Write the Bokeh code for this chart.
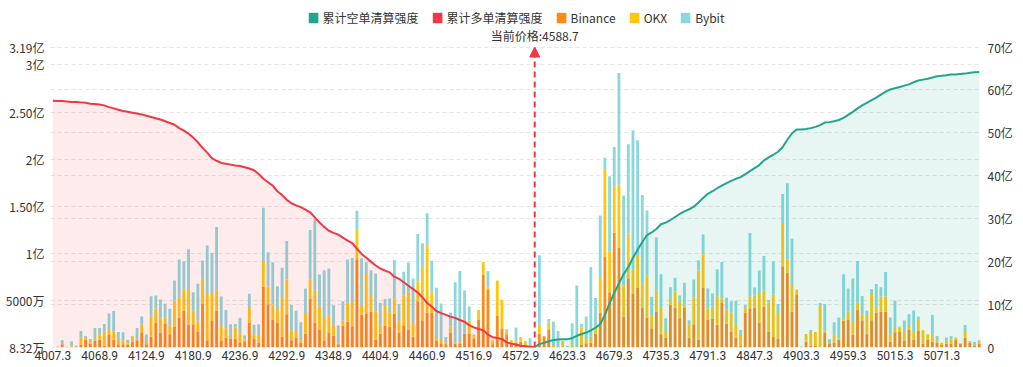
from bokeh.plotting import figure
from bokeh.models import (Range1d, LinearAxis, FixedTicker, Grid, Legend, LegendItem,
                          ColumnDataSource, Arrow, NormalHead)
from bokeh.embed import file_html
from bokeh.resources import INLINE
from bokeh.core.properties import value

# ---------------- data ----------------
x_labels = ["4007.3", "4068.9", "4124.9", "4180.9", "4236.9", "4292.9", "4348.9",
            "4404.9", "4460.9", "4516.9", "4572.9", "4623.3", "4679.3", "4735.3",
            "4791.3", "4847.3", "4903.3", "4959.3", "5015.3", "5071.3"]
label_every = 10
current_price = "4588.7"
current_index = 103

# liquidation per price level, unit: 亿
binance = [0.005, 0.009, 0.034, 0.003, 0.012, 0.004, 0.030, 0.084, 0.041, 0.073,
           0.084, 0.020, 0.134, 0.084, 0.034, 0.034, 0.027, 0.062, 0.077, 0.162,
           0.034, 0.116, 0.266, 0.159, 0.255, 0.141, 0.223, 0.319, 0.391, 0.244,
           0.248, 0.170, 0.462, 0.077, 0.291, 0.391, 0.077, 0.105, 0.091, 0.095,
           0.048, 0.059, 0.266, 0.091, 0.052, 0.648, 0.459, 0.298, 0.266, 0.112,
           0.355, 0.077, 0.105, 0.048, 0.148, 0.516, 0.266, 0.191, 0.077, 0.155,
           0.127, 0.034, 0.234, 0.273, 0.227, 0.937, 0.352, 0.362, 0.384, 0.084,
           0.148, 0.234, 0.223, 0.362, 0.159, 0.237, 0.187, 0.116, 0.491, 0.291,
           0.373, 0.366, 0.070, 0.045, 0.034, 0.159, 0.041, 0.045, 0.148, 0.152,
           0.091, 0.298, 0.776, 0.612, 0.034, 0.341, 0.205, 0.141, 0.045, 0.034,
           0.062, 0.027, 0.000, 0.000, 0.148, 0.120, 0.195, 0.005, 0.000, 0.000,
           0.000, 0.005, 0.000, 0.027, 0.045, 0.052, 0.148, 0.373, 0.962, 0.587,
           1.219, 1.058, 0.330, 0.737, 0.569, 0.633, 0.419, 0.319, 0.205, 0.384,
           0.141, 0.105, 0.451, 0.426, 0.312, 0.419, 0.105, 0.248, 0.087, 0.633,
           0.294, 0.309, 0.241, 0.480, 0.252, 0.170, 0.105, 0.016, 0.373, 0.416,
           0.426, 0.266, 0.434, 0.170, 0.112, 0.095, 0.862, 0.791, 0.380, 0.559,
           0.000, 0.062, 0.016, 0.016, 0.002, 0.159, 0.045, 0.052, 0.087, 0.284,
           0.298, 0.137, 0.405, 0.291, 0.141, 0.291, 0.373, 0.380, 0.380, 0.062,
           0.162, 0.166, 0.070, 0.187, 0.087, 0.177, 0.041, 0.080, 0.062, 0.052,
           0.027, 0.041, 0.041, 0.087, 0.041, 0.105, 0.052, 0.016, 0.041]
okx = [0.000, 0.000, 0.000, 0.006, 0.014, 0.002, 0.075, 0.018, 0.018, 0.021,
       0.057, 0.143, 0.064, 0.089, 0.046, 0.043, 0.014, 0.057, 0.011, 0.082,
       0.036, 0.211, 0.150, 0.150, 0.068, 0.096, 0.275, 0.207, 0.225, 0.378,
       0.143, 0.114, 0.268, 0.503, 0.289, 0.218, 0.150, 0.100, 0.010, 0.118,
       0.100, 0.029, 0.153, 0.050, 0.082, 0.261, 0.189, 0.161, 0.132, 0.414,
       0.368, 0.107, 0.071, 0.029, 0.218, 0.203, 0.339, 0.246, 0.236, 0.182,
       0.114, 0.007, 0.050, 0.203, 0.257, 0.318, 0.089, 0.418, 0.175, 0.300,
       0.089, 0.207, 0.153, 0.150, 0.114, 0.314, 0.403, 0.143, 0.211, 0.553,
       0.707, 0.221, 0.043, 0.046, 0.018, 0.064, 0.011, 0.011, 0.007, 0.132,
       0.029, 0.100, 0.132, 0.029, 0.043, 0.371, 0.303, 0.036, 0.032, 0.029,
       0.050, 0.043, 0.000, 0.000, 0.093, 0.000, 0.071, 0.011, 0.000, 0.070,
       0.000, 0.029, 0.000, 0.186, 0.043, 0.064, 0.064, 0.368, 0.928, 0.435,
       0.493, 0.671, 0.328, 0.475, 0.261, 0.339, 0.264, 0.446, 0.132, 0.221,
       0.286, 0.061, 0.064, 0.168, 0.186, 0.036, 0.143, 0.286, 0.732, 0.357,
       0.121, 0.125, 0.303, 0.043, 0.150, 0.203, 0.139, 0.107, 0.046, 0.125,
       0.125, 0.303, 0.171, 0.311, 0.450, 0.261, 0.460, 0.143, 0.293, 0.057,
       0.000, 0.082, 0.150, 0.150, 0.439, 0.025, 0.000, 0.086, 0.011, 0.025,
       0.086, 0.146, 0.071, 0.064, 0.193, 0.278, 0.046, 0.161, 0.161, 0.075,
       0.057, 0.046, 0.107, 0.043, 0.089, 0.125, 0.143, 0.061, 0.079, 0.025,
       0.025, 0.036, 0.046, 0.018, 0.005, 0.071, 0.018, 0.011, 0.029]
bybit = [0.000, 0.000, 0.043, 0.000, 0.039, 0.014, 0.071, 0.021, 0.032, 0.114,
         0.068, 0.086, 0.164, 0.214, 0.086, 0.086, 0.043, 0.004, 0.121, 0.086,
         0.068, 0.218, 0.136, 0.200, 0.143, 0.175, 0.214, 0.410, 0.300, 0.421,
         0.196, 0.393, 0.193, 0.503, 0.425, 0.671, 0.314, 0.193, 0.147, 0.036,
         0.168, 0.039, 0.153, 0.100, 0.114, 0.575, 0.364, 0.446, 0.253, 0.321,
         0.407, 0.268, 0.214, 0.193, 0.261, 0.528, 0.757, 0.339, 0.507, 0.503,
         0.207, 0.193, 0.207, 0.460, 0.468, 0.196, 0.507, 0.125, 0.261, 0.403,
         0.239, 0.075, 0.146, 0.418, 0.189, 0.253, 0.314, 0.475, 0.503, 0.264,
         0.346, 0.335, 0.521, 0.378, 0.061, 0.150, 0.642, 0.757, 0.450, 0.153,
         0.020, 0.000, 0.000, 0.168, 0.000, 0.000, 0.000, 0.018, 0.000, 0.150,
         0.000, 0.000, 0.098, 0.000, 0.739, 0.000, 0.036, 0.257, 0.177, 0.000,
         0.016, 0.225, 0.658, 0.036, 0.243, 0.739, 0.314, 0.660, 0.125, 0.796,
         0.418, 1.185, 0.956, 0.946, 1.474, 1.228, 0.935, 0.689, 0.203, 0.564,
         0.350, 0.146, 0.125, 0.146, 0.054, 0.232, 0.043, 0.189, 0.107, 0.211,
         0.211, 0.139, 0.286, 0.385, 0.128, 0.118, 0.253, 0.064, 0.032, 0.675,
         0.086, 0.250, 0.368, 0.025, 0.353, 0.107, 0.307, 0.810, 0.482, 0.000,
         0.012, 0.000, 0.021, 0.000, 0.032, 0.278, 0.043, 0.132, 0.221, 0.468,
         0.243, 0.450, 0.443, 0.193, 0.057, 0.054, 0.257, 0.100, 0.261, 0.182,
         0.278, 0.011, 0.111, 0.125, 0.218, 0.029, 0.000, 0.000, 0.207, 0.046,
         0.000, 0.029, 0.032, 0.000, 0.000, 0.064, 0.000, 0.036, 0.007]

# cumulative long liquidation (亿), price levels 0..current_index
long_cum = [57.5, 57.4, 57.4, 57.3, 57.2, 57.2, 57.1, 57.0, 56.8, 56.7,
            56.6, 56.4, 56.0, 55.7, 55.4, 55.1, 54.9, 54.7, 54.5, 54.3,
            54.0, 53.7, 53.4, 53.1, 52.7, 52.3, 51.9, 51.1, 50.5, 49.8,
            48.9, 47.8, 46.5, 45.4, 44.1, 43.5, 43.0, 42.8, 42.6, 42.4,
            42.3, 42.0, 41.7, 41.3, 40.4, 39.3, 38.5, 37.7, 36.4, 35.5,
            34.4, 33.6, 33.1, 32.7, 32.1, 31.5, 30.3, 29.1, 28.1, 27.2,
            26.7, 26.3, 25.6, 24.9, 24.3, 23.0, 21.8, 20.9, 20.0, 19.1,
            18.4, 17.9, 17.5, 16.5, 16.0, 15.2, 14.4, 13.6, 12.8, 11.7,
            10.4, 9.5, 8.5, 8.0, 7.6, 7.2, 6.9, 6.4, 6.0, 5.2,
            4.7, 4.3, 4.0, 3.0, 2.4, 2.2, 2.0, 1.2, 0.9, 0.7,
            0.4, 0.3, 0.2, 0.1]
# cumulative short liquidation (亿), price levels current_index..end
short_cum = [0.1, 0.78, 1.13, 1.44, 1.74, 1.84, 1.91, 1.95, 2.16, 2.73,
             3.13, 3.48, 4.0, 4.61, 5.46, 7.58, 10.35, 12.7, 14.9, 17.1,
             18.7, 20.9, 22.8, 24.6, 26.2, 26.8, 27.6, 28.7, 29.1, 29.7,
             30.4, 31.1, 31.7, 32.2, 32.8, 33.8, 34.8, 35.8, 36.4, 37.1,
             37.7, 38.3, 38.8, 39.3, 39.7, 40.4, 41.1, 41.8, 42.5, 43.6,
             44.3, 44.9, 45.6, 46.7, 48.4, 49.9, 50.8, 50.8, 50.9, 51.1,
             51.4, 51.8, 52.4, 52.5, 52.7, 53.0, 53.5, 54.2, 54.9, 55.7,
             56.4, 57.0, 57.6, 58.2, 58.9, 59.6, 60.1, 60.4, 60.7, 61.0,
             61.3, 61.8, 62.2, 62.4, 62.6, 62.9, 63.2, 63.3, 63.4, 63.6,
             63.6, 63.7, 63.8, 64.0, 64.1, 64.2]

left_ticks = [0.000832, 0.5, 1.0, 1.5, 2.0, 2.5, 3.0, 3.19]
left_tick_labels = ["8.32万", "5000万", "1亿", "1.50亿", "2亿", "2.50亿", "3亿", "3.19亿"]
right_ticks = [0, 10, 20, 30, 40, 50, 60, 70]
right_tick_labels = ["0", "10亿", "20亿", "30亿", "40亿", "50亿", "60亿", "70亿"]

# ---------------- styling / layout ----------------
TEAL = "#1fa68b"
RED = "#f23645"
C_BIN = "#fb8a16"
C_OKX = "#ffc60a"
C_BYB = "#8ad8dc"
TXT = "#333333"
CJK = "Noto Sans CJK SC"

W, H = 1023, 367
B_LEFT, B_RIGHT, B_TOP, B_BOTTOM = 50, 42, 0, 20
frame_h = H - B_TOP - B_BOTTOM
top_tick_px = 46.5            # distance of the max tick from frame top
span_px = frame_h - top_tick_px
l_min, l_max = left_ticks[0], left_ticks[-1]
l_end = l_max + top_tick_px * (l_max - l_min) / span_px
r_max = right_ticks[-1]
r_end = r_max + top_tick_px * r_max / span_px

n = len(binance)
xs = list(range(n))
long_x = list(range(0, len(long_cum)))
short_x = list(range(current_index, current_index + len(short_cum)))

p = figure(width=W, height=H, output_backend="svg", toolbar_location=None,
           x_range=Range1d(-0.5, n - 0.5), y_range=Range1d(l_min, l_end),
           min_border_left=B_LEFT, min_border_right=B_RIGHT,
           min_border_top=B_TOP, min_border_bottom=B_BOTTOM)
p.outline_line_color = None
p.extra_y_ranges = {"right": Range1d(0, r_end)}

# axes
p.xaxis.ticker = FixedTicker(ticks=[i * label_every for i in range(len(x_labels))])
p.xaxis.major_label_overrides = {i * label_every: s for i, s in enumerate(x_labels)}
p.xaxis.major_label_text_font = "Roboto"
p.yaxis.ticker = FixedTicker(ticks=left_ticks)
p.yaxis.major_label_overrides = dict(zip(left_ticks, left_tick_labels))
p.yaxis.major_label_text_font = CJK

ra = LinearAxis(y_range_name="right", ticker=FixedTicker(ticks=right_ticks),
                major_label_overrides=dict(zip(right_ticks, right_tick_labels)))
ra.major_label_text_font = CJK
p.add_layout(ra, "right")

for ax in [p.xaxis[0], p.yaxis[0], ra]:
    ax.axis_line_color = None
    ax.major_tick_line_color = None
    ax.minor_tick_line_color = None
    ax.major_tick_out = 0
    ax.major_tick_in = 0
    ax.major_label_text_font_size = "12px"
    ax.major_label_text_color = TXT
    ax.major_label_standoff = 4
p.xaxis.major_label_standoff = 3
p.yaxis.major_label_standoff = 6

# grids
p.xgrid.visible = False
p.ygrid.ticker = FixedTicker(ticks=left_ticks[1:])
p.ygrid.grid_line_color = "#e6e6e6"
p.ygrid.grid_line_dash = "4 3"
rgrid = Grid(dimension=1, ticker=FixedTicker(ticks=right_ticks[1:]), y_range_name="right",
             grid_line_color="#e6e6e6", grid_line_dash="4 3")
p.add_layout(rgrid)

# stacked bars
src = ColumnDataSource(dict(x=xs, binance=binance, okx=okx, bybit=bybit))
bars = p.vbar_stack(["binance", "okx", "bybit"], x="x", width=0.6, source=src,
                    fill_color=[C_BIN, C_OKX, C_BYB], line_color=None)

# cumulative areas (drawn over bars)
p.varea(x=long_x, y1=[0] * len(long_cum), y2=long_cum, fill_color=RED, fill_alpha=0.1,
        y_range_name="right")
p.varea(x=short_x, y1=[0] * len(short_cum), y2=short_cum, fill_color=TEAL, fill_alpha=0.1,
        y_range_name="right")
r_long = p.line(long_x, long_cum, line_color=RED, line_width=2, y_range_name="right")
r_short = p.line(short_x, short_cum, line_color=TEAL, line_width=2, y_range_name="right")

# current price marker
p.add_layout(Arrow(x_start=current_index, y_start=0, x_end=current_index, y_end=l_max,
                   line_color=RED, line_width=2, line_dash="6 4",
                   end=NormalHead(size=10, fill_color=RED, line_color=RED, line_width=1)))
per_px = (l_end - l_min) / frame_h
p.text(x=[current_index], y=[l_max + 11.5 * per_px], text=[f"当前价格:{current_price}"],
       text_font=value(CJK), text_font_size="12px", text_color=TXT,
       text_align="center", text_baseline="middle")

# legend (square swatches for the two cumulative lines)
sw = ColumnDataSource(dict(x=[0], top=[0]))
sw_short = p.vbar(x="x", top="top", width=0.6, source=sw, fill_color=TEAL, line_color=None)
sw_long = p.vbar(x="x", top="top", width=0.6, source=sw, fill_color=RED, line_color=None)
legend = Legend(items=[
    LegendItem(label="累计空单清算强度", renderers=[sw_short]),
    LegendItem(label="累计多单清算强度", renderers=[sw_long]),
    LegendItem(label="Binance", renderers=[bars[0]]),
    LegendItem(label="OKX", renderers=[bars[1]]),
    LegendItem(label="Bybit", renderers=[bars[2]]),
], orientation="horizontal", location="top_center")
legend.border_line_color = None
legend.background_fill_alpha = 0
legend.label_text_font = CJK
legend.label_text_font_size = "12px"
legend.label_text_color = TXT
legend.glyph_width = 12
legend.glyph_height = 13
legend.label_standoff = 4
legend.spacing = 12
legend.padding = 0
legend.margin = 9
p.add_layout(legend)

open("out.html", "w").write(file_html(p, INLINE))
